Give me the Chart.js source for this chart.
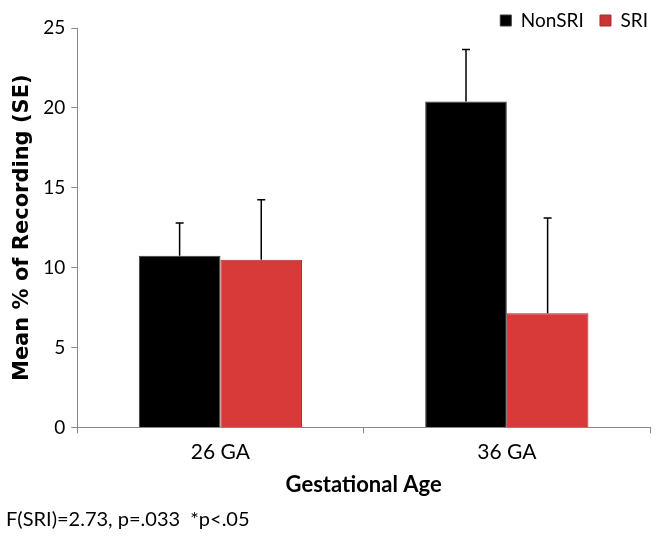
<!DOCTYPE html>
<html>
<head>
<meta charset="utf-8">
<script src="https://cdn.jsdelivr.net/npm/chart.js@4"></script>
<style>
  html, body { margin: 0; padding: 0; background: #fff; }
  #wrap { width: 661px; height: 545px; }
</style>
</head>
<body>
<div id="wrap"><canvas id="chart"></canvas></div>
<script>
const categories = ['26 GA', '36 GA'];
const seriesNames = ['NonSRI', 'SRI'];
const nonSriMeans = [10.75, 20.4];
const sriMeans = [10.5, 7.15];
const nonSriErr = [2.05, 3.25];
const sriErr = [3.75, 5.95];
const yTicks = [0, 5, 10, 15, 20, 25];

// bars get a soft horizontal shading like the original
function shade(ctx, base, light, dark) {
  const el = ctx.element;
  const area = ctx.chart.chartArea;
  if (!el || !area || el.width == null) return base;
  const c = ctx.chart.ctx;
  const x0 = el.x - el.width / 2;
  const g = c.createLinearGradient(x0, 0, x0 + el.width, 0);
  g.addColorStop(0, dark);
  g.addColorStop(0.35, light);
  g.addColorStop(1, dark);
  return g;
}

// error bars: upward only, with a cap
const errorBars = {
  id: 'errorBars',
  afterDatasetsDraw(chart) {
    const c = chart.ctx;
    const y = chart.scales.y;
    c.save();
    c.strokeStyle = '#000';
    c.lineWidth = 1.5;
    chart.data.datasets.forEach((ds, i) => {
      chart.getDatasetMeta(i).data.forEach((bar, j) => {
        const top = y.getPixelForValue(ds.data[j]);
        const end = y.getPixelForValue(ds.data[j] + ds.errors[j]);
        c.beginPath();
        c.moveTo(bar.x, top);
        c.lineTo(bar.x, end);
        c.moveTo(bar.x - 4, end);
        c.lineTo(bar.x + 4, end);
        c.stroke();
      });
    });
    c.restore();
  }
};

// the legend in the original sits a little lower, level with the top tick
const legendDrop = {
  id: 'legendDrop',
  afterLayout(chart) {
    if (!chart.legend) return;
    chart.legend.top += 12;
    chart.legend.bottom += 12;
  }
};

new Chart(document.getElementById('chart'), {
  type: 'bar',
  data: {
    labels: categories,
    datasets: [
      {
        label: seriesNames[0],
        data: nonSriMeans,
        errors: nonSriErr,
        backgroundColor: (ctx) => shade(ctx, '#000', '#111', '#000'),
        borderColor: '#3a3a3a',
        borderWidth: 1
      },
      {
        label: seriesNames[1],
        data: sriMeans,
        errors: sriErr,
        backgroundColor: (ctx) => shade(ctx, '#d83a3a', '#e44646', '#c93434'),
        borderColor: '#a82a2a',
        borderWidth: 1
      }
    ]
  },
  options: {
    responsive: true,
    maintainAspectRatio: false,
    animation: false,
    layout: { padding: { top: -3, right: 11, left: 6, bottom: 9 } },
    datasets: { bar: { categoryPercentage: 0.57, barPercentage: 1 } },
    plugins: {
      legend: {
        position: 'top',
        align: 'end',
        labels: {
          boxWidth: 11,
          boxHeight: 11,
          padding: 2,
          color: '#000',
          font: { family: 'Lato', size: 19 },
          generateLabels: (chart) =>
            Chart.defaults.plugins.legend.labels.generateLabels(chart).map((item, i) => {
              if (i === 0) item.text = item.text + '\u2003';
              return item;
            })
        }
      },
      title: {
        display: true,
        position: 'bottom',
        align: 'start',
        text: 'F(SRI)=2.73, p=.033  *p<.05',
        color: '#000',
        font: { family: 'Lato', size: 20, weight: 'normal' },
        padding: { top: 6, bottom: 4 }
      },
      tooltip: { enabled: false }
    },
    scales: {
      x: {
        grid: { display: true, offset: true, drawOnChartArea: false, tickLength: 6, color: '#888' },
        border: { color: '#888' },
        ticks: { color: '#000', font: { family: 'Lato', size: 21 }, padding: 6 },
        title: {
          display: true,
          text: 'Gestational Age',
          color: '#000',
          font: { family: 'Lato', size: 22, weight: 'bold' },
          padding: { top: 1 }
        }
      },
      y: {
        min: 0,
        max: 25,
        afterBuildTicks: (axis) => { axis.ticks = yTicks.map(v => ({ value: v })); },
        grid: { display: true, drawOnChartArea: false, tickLength: 6, color: '#888' },
        border: { color: '#888' },
        ticks: { color: '#000', font: { family: 'Lato', size: 19 }, padding: 6 },
        title: {
          display: true,
          text: 'Mean % of Recording (SE)',
          color: '#000',
          font: { family: 'DejaVu Sans', size: 21, weight: 'bold' },
          padding: { bottom: 2 }
        }
      }
    }
  },
  plugins: [errorBars, legendDrop]
});
</script>
</body>
</html>
